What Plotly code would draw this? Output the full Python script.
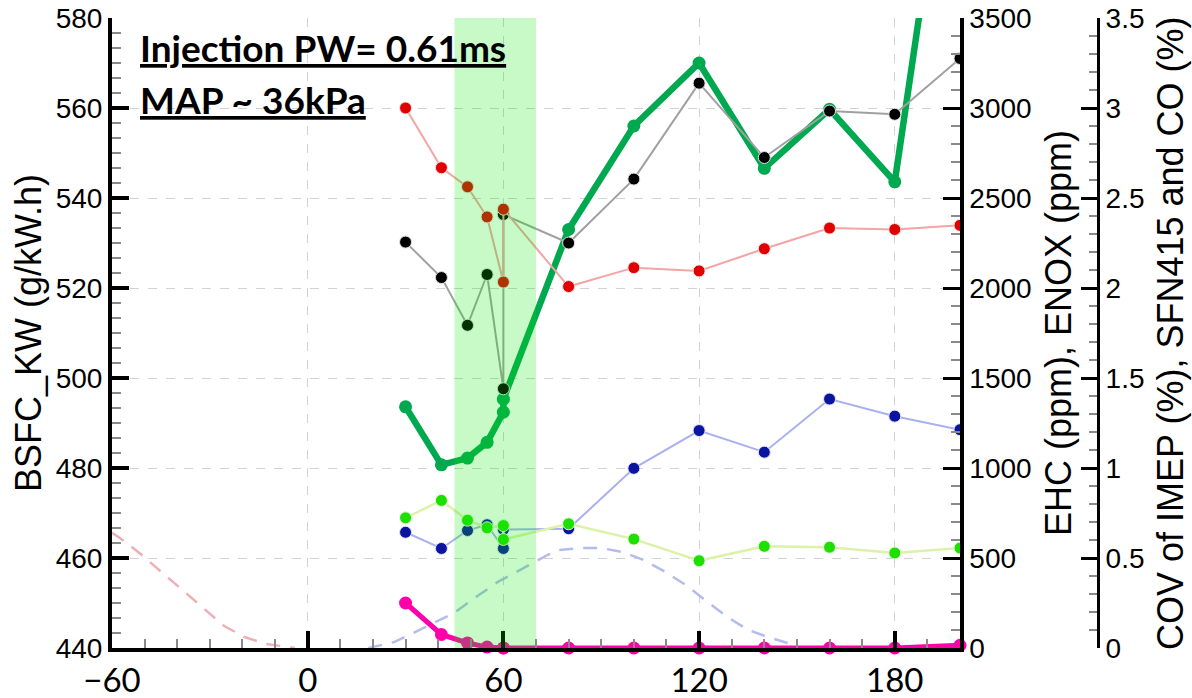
import plotly.graph_objects as go

# ---------------- data ----------------
soi = [30, 41, 49, 55, 60, 60, 80, 100, 120, 140, 160, 180, 200]

bsfc = [493.6, 480.7, 482.2, 485.7, 492.4, 495.3, 533.0, 556.0, 570.0, 546.6, 559.7, 543.6, 642.0]   # g/kW.h
ehc = [2255, 2058, 1793, 2075, 1440, 2408, 2250, 2605, 3138, 2725, 2983, 2965, 3275]                 # ppm
enox = [3000, 2668, 2562, 2395, 2033, 2438, 2008, 2113, 2095, 2218, 2333, 2325, 2348]                # ppm
cov_imep = [0.643, 0.553, 0.653, 0.685, 0.553, 0.658, 0.663, 0.998, 1.208, 1.088, 1.383, 1.288, 1.213]  # %
sfn415 = [0.723, 0.820, 0.710, 0.668, 0.680, 0.603, 0.690, 0.605, 0.485, 0.565, 0.560, 0.528, 0.555]    # %
co = [0.250, 0.075, 0.028, 0.005, 0.0, 0.0, 0.0, 0.0, 0.0, 0.0, 0.0, 0.0, 0.015]                        # %

red_dash_x = [-60, -58, -51.6, -44.8, -38.7, -32.0, -25.6, -19.4, -12.7, -6.0, -4.0]
red_dash_y = [0.64, 0.617, 0.528, 0.422, 0.322, 0.222, 0.122, 0.061, 0.022, 0.006, 0.0]

blue_dash_x = [18.6, 26.5, 32.3, 38.7, 44.8, 51.6, 58.3, 73.6, 77.0, 83.7, 89.8, 96.6,
               103.0, 109.7, 115.9, 122.6, 128.7, 135.1, 141.9, 147.1, 150.0]
blue_dash_y = [0.0, 0.033, 0.083, 0.139, 0.194, 0.283, 0.367, 0.517, 0.544, 0.556, 0.556, 0.533,
               0.489, 0.422, 0.35, 0.256, 0.172, 0.1, 0.056, 0.028, 0.01]

band = [45, 70]
x_ticks = [-60, 0, 60, 120, 180]

fig = go.Figure()

# dashed profiles
fig.add_trace(go.Scatter(x=red_dash_x, y=red_dash_y, yaxis="y3", mode="lines",
                         line=dict(color="#eeb0b4", width=2.5, dash="14px,10px"), hoverinfo="skip"))
fig.add_trace(go.Scatter(x=blue_dash_x, y=blue_dash_y, yaxis="y3", mode="lines",
                         line=dict(color="#b4bcec", width=2.5, dash="14px,10px"), hoverinfo="skip"))

# thin series
fig.add_trace(go.Scatter(x=soi, y=cov_imep, yaxis="y3", mode="lines+markers", name="COV of IMEP",
                         line=dict(color="#a8b0f0", width=2),
                         marker=dict(color="#0a14a0", size=12, line=dict(color="#e6e6f2", width=1))))
fig.add_trace(go.Scatter(x=soi, y=sfn415, yaxis="y3", mode="lines+markers", name="SFN415",
                         line=dict(color="#dcf2a8", width=2.5),
                         marker=dict(color="#1ee000", size=12, line=dict(color="#e8f6e0", width=1))))
fig.add_trace(go.Scatter(x=soi, y=ehc, yaxis="y2", mode="lines+markers", name="EHC",
                         line=dict(color="#a0a0a0", width=2),
                         marker=dict(color="#000000", size=12, line=dict(color="#e0e0e0", width=1))))
fig.add_trace(go.Scatter(x=soi, y=enox, yaxis="y2", mode="lines+markers", name="ENOX",
                         line=dict(color="#f4a4a4", width=2),
                         marker=dict(color="#e00000", size=12, line=dict(color="#f6e0e0", width=1))))
# thick series
fig.add_trace(go.Scatter(x=soi, y=bsfc, yaxis="y", mode="lines+markers", name="BSFC",
                         line=dict(color="#00a84f", width=6.5),
                         marker=dict(color="#00a84f", size=13)))
fig.add_trace(go.Scatter(x=soi, y=co, yaxis="y3", mode="lines+markers", name="CO", cliponaxis=False,
                         line=dict(color="#ff00aa", width=5),
                         marker=dict(color="#ff00aa", size=13)))

# shaded band (above traces, translucent)
fig.add_shape(type="rect", xref="x", yref="y domain", x0=band[0], x1=band[1], y0=0, y1=1,
              fillcolor="rgba(0,230,0,0.22)", line=dict(width=0), layer="above")

tickfont_y = dict(family="Liberation Sans, Arial", size=28, color="black")
title_font = dict(family="Liberation Sans, Arial", size=36, color="black")
grid = dict(showgrid=True, gridcolor="#d2d2d2", griddash="dash", gridwidth=1)

fig.update_layout(
    template="none",
    width=1192, height=698,
    margin=dict(l=112, r=94, t=18, b=50, autoexpand=False),
    paper_bgcolor="white", plot_bgcolor="white", showlegend=False,
    xaxis=dict(domain=[0, 848 / 986], range=[-60, 200], tickvals=x_ticks, automargin=False,
               ticklabeloverflow="allow",
               ticks="inside", ticklen=17, tickwidth=4, tickcolor="black",
               showline=True, linewidth=4, linecolor="black", zeroline=False,
               tickfont=dict(family="Lato", size=33, color="black"),
               minor=dict(dtick=10, tick0=0, ticks="inside", ticklen=9, tickwidth=1.5, tickcolor="#8a8a8a",
                          showgrid=False),
               **grid),
    yaxis=dict(range=[440, 580], dtick=20, tick0=440, automargin=False, ticklabeloverflow="allow",
               ticks="inside", ticklen=17, tickwidth=4, tickcolor="black",
               showline=True, linewidth=4, linecolor="black", zeroline=False,
               tickfont=tickfont_y,
               minor=dict(dtick=20 / 6, tick0=440, ticks="inside", ticklen=9, tickwidth=1.5, tickcolor="#8a8a8a",
                          showgrid=False),
               **grid),
    yaxis2=dict(overlaying="y", side="right", anchor="x", range=[0, 3500], dtick=500, tick0=0,
                automargin=False, ticklabeloverflow="allow",
                ticks="inside", ticklen=17, tickwidth=3, tickcolor="black",
                showline=True, linewidth=3.5, linecolor="black", zeroline=False, showgrid=False,
                tickfont=tickfont_y,
                minor=dict(dtick=100, tick0=0, ticks="inside", ticklen=9, tickwidth=1.5, tickcolor="#8a8a8a")),
    yaxis3=dict(overlaying="y", side="right", anchor="free", position=1.0, range=[0, 3.5], dtick=0.5, tick0=0,
                automargin=False, ticklabeloverflow="allow",
                ticks="inside", ticklen=16, tickwidth=3, tickcolor="black",
                showline=True, linewidth=3, linecolor="black", zeroline=False, showgrid=False,
                tickfont=tickfont_y,
                minor=dict(dtick=0.1, tick0=0, ticks="inside", ticklen=8, tickwidth=1.5, tickcolor="#8a8a8a")),
)

annots = [
    dict(text="BSFC_KW (g/kW.h)", x=(28 - 112) / 986, y=0.5, textangle=-90),
    dict(text="EHC (ppm), ENOX (ppm)", x=(1058 - 112) / 986, y=0.5, textangle=-90),
    dict(text="COV of IMEP (%), SFN415 and CO (%)", x=(1170 - 112) / 986, y=0.5, textangle=-90),
]
for a in annots:
    fig.add_annotation(xref="paper", yref="paper", showarrow=False, xanchor="center", yanchor="middle",
                       font=title_font, **a)

label_font = dict(family="Lato", size=37, color="black", weight="bold", lineposition="under")
fig.add_annotation(text="Injection PW= 0.61ms", xref="paper", yref="paper", x=(138 - 112) / 986,
                   y=1 - (47 - 18) / 630, xanchor="left", yanchor="middle", showarrow=False, font=label_font)
fig.add_annotation(text="MAP ~ 36kPa", xref="paper", yref="paper", x=(138 - 112) / 986,
                   y=1 - (100 - 18) / 630, xanchor="left", yanchor="middle", showarrow=False, font=label_font)

# remove the default 8px page margin so the figure fills the window from its top-left corner
fig.write_html("out.html", config={"displayModeBar": False},
               post_script="document.body.style.margin='0';")
